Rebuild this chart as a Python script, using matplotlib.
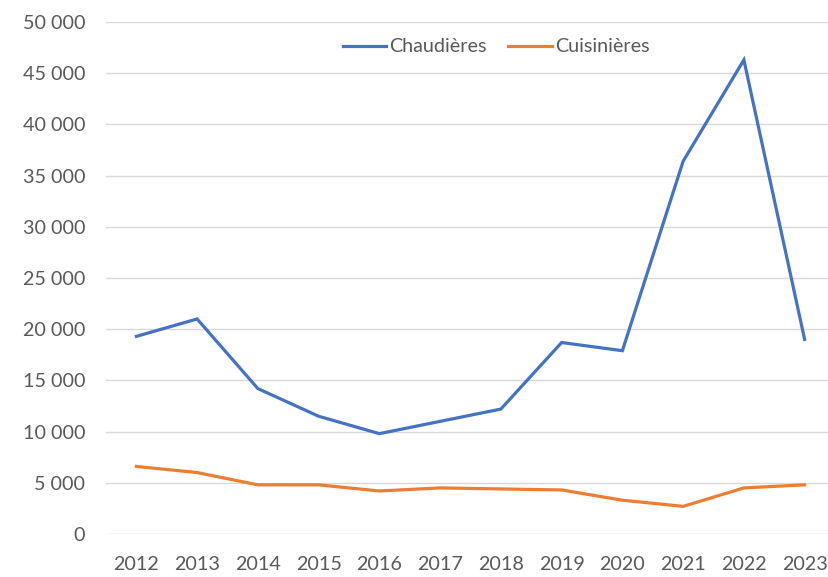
import numpy as np
import matplotlib.pyplot as plt
from matplotlib.ticker import FuncFormatter

years = ['2012', '2013', '2014', '2015', '2016', '2017',
         '2018', '2019', '2020', '2021', '2022', '2023']
chaudieres = [19300, 21000, 14200, 11500, 9800, 11000,
              12200, 18700, 17900, 36400, 46300, 19000]
cuisinieres = [6600, 6000, 4800, 4800, 4200, 4500,
               4400, 4300, 3300, 2700, 4500, 4800]

plt.rcParams['font.family'] = ['Lato', 'DejaVu Sans']

W, H = 829, 577
fig = plt.figure(figsize=(W / 100, H / 100), dpi=100)
# axes in pixel terms: left 106, right 835 (runs a bit past the edge), top 22, bottom 534
ax = fig.add_axes([106 / W, (H - 534) / H, (835 - 106) / W, (534 - 22) / H])

x = np.arange(len(years))
l1, = ax.plot(x, chaudieres, color='#4472C4', lw=2.3, label='Chaudières',
              solid_joinstyle='miter')
l2, = ax.plot(x, cuisinieres, color='#ED7D31', lw=2.3, label='Cuisinières',
              solid_joinstyle='miter')

ax.set_xlim(-0.5, len(years) - 0.5)
ax.set_ylim(0, 50000)
ax.set_yticks(np.arange(0, 50001, 5000))
ax.yaxis.set_major_formatter(FuncFormatter(lambda v, p: f"{int(v):,}".replace(',', ' ')))
ax.set_xticks(x)
ax.set_xticklabels(years)

ax.grid(axis='y', color='#D9D9D9', lw=1)
ax.set_axisbelow(True)
for s in ax.spines.values():
    s.set_visible(False)
ax.tick_params(length=0, labelsize=14.2, colors='#595959')
ax.tick_params(axis='y', pad=15)
ax.tick_params(axis='x', pad=16)

fig.legend(handles=[l1, l2], loc='center', bbox_to_anchor=(496 / W, 1 - 47 / H),
           ncol=2, frameon=False, fontsize=14.2, labelcolor='#595959',
           handlelength=2.2, handletextpad=0.15, columnspacing=1.1)

fig.savefig('out.png', dpi=100)
